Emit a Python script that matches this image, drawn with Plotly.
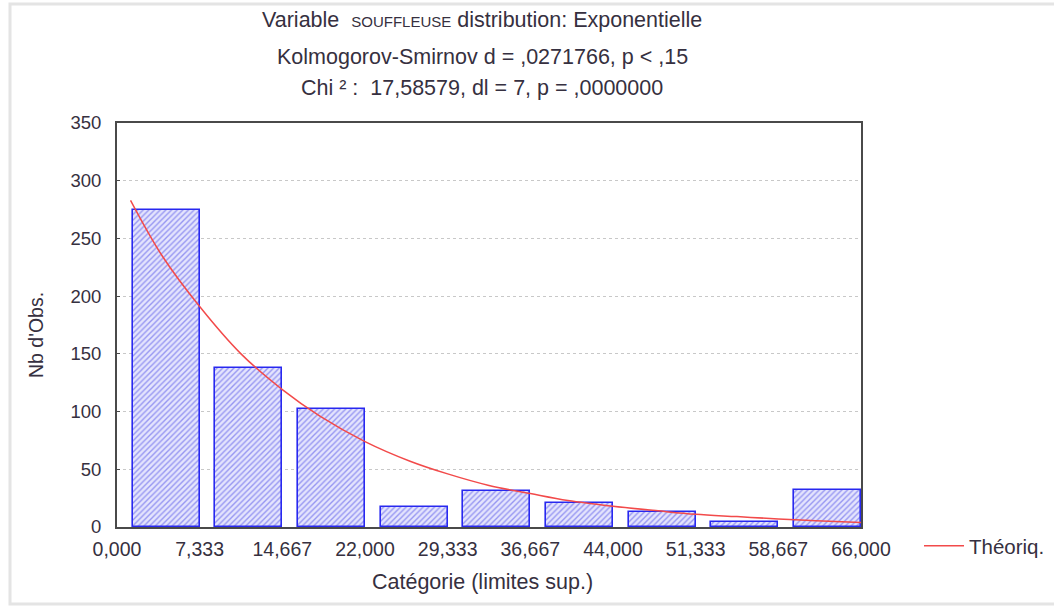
import plotly.graph_objects as go

# Data
bin_upper = [7.333, 14.667, 22.0, 29.333, 36.667, 44.0, 51.333, 58.667, 66.0]
counts = [275, 138, 102, 17, 31, 21, 13, 4, 32]
tick_vals = [0.0, 7.333, 14.667, 22.0, 29.333, 36.667, 44.0, 51.333, 58.667, 66.0]
tick_text = ["0,000", "7,333", "14,667", "22,000", "29,333", "36,667", "44,000", "51,333", "58,667", "66,000"]
theo_x = [1.2, 4.0, 7.333, 11.0, 14.667, 18.0, 22.0, 26.0, 29.333, 33.0, 36.667, 40.0, 44.0, 48.0, 51.333, 55.0, 58.667, 62.0, 66.0]
theo_y = [283, 235, 191, 150, 119, 96, 74, 57, 46, 36, 29, 23, 18, 14, 11, 9, 7, 5.5, 4]
title_lines = [
    "Variable  <span style=\"font-size:15px\">SOUFFLEUSE</span> distribution: Exponentielle",
    "Kolmogorov-Smirnov d = ,0271766, p < ,15",
    "Chi ² :  17,58579, dl = 7, p = ,0000000",
]

FONT = "Liberation Sans, Arial, sans-serif"
TXT = "#363040"
bar_w = 5.95

# pixel helpers for annotation placement (plot area: x 117..861, y 123..527)
def px_x(X):
    return (X - 117) / 744

def px_y(Y):
    return (527 - Y) / 404

fig = go.Figure()
fig.add_trace(go.Bar(
    x=bin_upper, y=counts, width=bar_w, offset=-bar_w,
    marker=dict(color="#d0d0fa",
                line=dict(color="#2828f0", width=1.6),
                pattern=dict(shape="/", fgcolor="#4848e6", bgcolor="#e4e4fd", size=4, solidity=0.35)),
    showlegend=False, hoverinfo="skip",
))
fig.add_trace(go.Scatter(
    x=theo_x, y=theo_y, mode="lines", name="Théoriq.",
    line=dict(color="#f24a4a", width=1.5, shape="spline"),
))

fig.update_layout(
    width=1054, height=607,
    margin=dict(l=117, r=193, t=123, b=80, autoexpand=False),
    paper_bgcolor="white", plot_bgcolor="white",
    font=dict(family=FONT, color=TXT, size=19),
    bargap=0,
    legend=dict(x=px_x(919), y=px_y(546), xanchor="left", yanchor="middle",
                font=dict(size=20.5, color=TXT), bgcolor="rgba(0,0,0,0)",
                itemwidth=40),
)
fig.update_xaxes(
    range=[0, 66], tickvals=tick_vals, ticktext=tick_text, automargin=False,
    showgrid=False, zeroline=False, showline=True, linecolor="#4a4a4a", linewidth=2, mirror=True,
    ticks="", tickfont=dict(size=19.5), ticklabelstandoff=4,
)
fig.update_yaxes(
    range=[0, 350], tickvals=[0, 50, 100, 150, 200, 250, 300, 350], automargin=False,
    showgrid=True, gridcolor="#c8c8c8", griddash="dot", gridwidth=1,
    zeroline=False, showline=True, linecolor="#4a4a4a", linewidth=2, mirror=True,
    ticks="inside", ticklen=3, tickcolor="#4a4a4a", tickfont=dict(size=18.5),
    ticklabelstandoff=10,
)

# axis titles
fig.add_annotation(text="Catégorie (limites sup.)", xref="paper", yref="paper",
                   x=px_x(482), y=px_y(582), xanchor="center", yanchor="middle",
                   showarrow=False, font=dict(size=21.5, color=TXT, family=FONT))
fig.add_annotation(text="Nb d'Obs.", xref="paper", yref="paper",
                   x=px_x(36), y=px_y(335), xanchor="center", yanchor="middle",
                   textangle=-90, showarrow=False, font=dict(size=19.5, color=TXT, family=FONT))

# title lines
ys_px = [20, 57, 88]
for line, ypx in zip(title_lines, ys_px):
    fig.add_annotation(text=line, xref="paper", yref="paper",
                       x=px_x(482), y=px_y(ypx),
                       xanchor="center", yanchor="middle", showarrow=False,
                       font=dict(size=21.5, color=TXT, family=FONT))

# outer light frame
fig.add_shape(type="rect", xref="paper", yref="paper",
              x0=px_x(10), x1=px_x(1060),
              y0=px_y(604), y1=px_y(4),
              line=dict(color="#e4e4e4", width=3), layer="below")

fig.write_html("out.html", config={"displayModeBar": False},
               post_script="document.body.style.margin='0';")
